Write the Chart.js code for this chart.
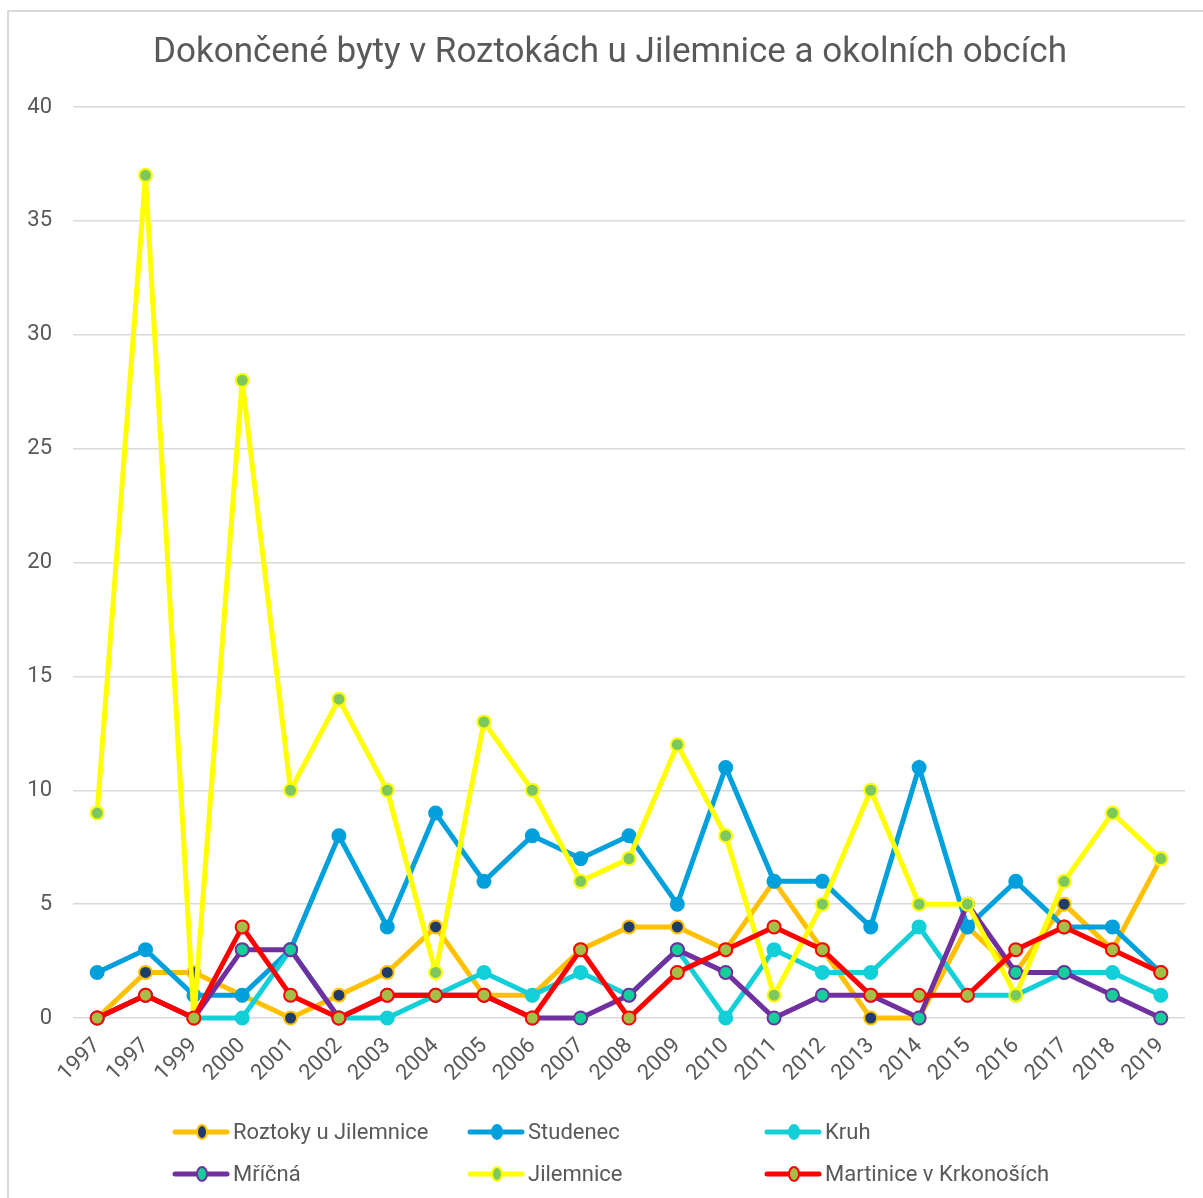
<!DOCTYPE html>
<html>
<head>
<meta charset="utf-8">
<script src="https://cdn.jsdelivr.net/npm/chart.js@4.4.1/dist/chart.umd.min.js"></script>
<style>
  html, body { margin: 0; background: #fff; }
  #frame { position: absolute; left: 7px; top: 10px; width: 1300px; height: 1300px;
           border-left: 2px solid #d9d9d9; border-top: 2px solid #d9d9d9; }
  #wrap { position: absolute; left: 0; top: 0; width: 1203px; height: 1198px; }
</style>
</head>
<body>
<div id="frame"></div>
<div id="wrap"><canvas id="chart" width="1203" height="1198"></canvas></div>
<script>
const titleText = "Dokončené byty v Roztokách u Jilemnice a okolních obcích";

const years = ["1997", "1997", "1999", "2000", "2001", "2002", "2003", "2004", "2005", "2006", "2007", "2008",
               "2009", "2010", "2011", "2012", "2013", "2014", "2015", "2016", "2017", "2018", "2019"];

const roztoky    = [0, 2, 2, 1, 0, 1, 2, 4, 1, 1, 3, 4, 4, 3, 6, 3, 0, 0, 4, 2, 5, 3, 7];
const studenec   = [2, 3, 1, 1, 3, 8, 4, 9, 6, 8, 7, 8, 5, 11, 6, 6, 4, 11, 4, 6, 4, 4, 2];
const kruh       = [0, 1, 0, 0, 3, 0, 0, 1, 2, 1, 2, 1, 3, 0, 3, 2, 2, 4, 1, 1, 2, 2, 1];
const mricna     = [0, 1, 0, 3, 3, 0, 1, 1, 1, 0, 0, 1, 3, 2, 0, 1, 1, 0, 5, 2, 2, 1, 0];
const jilemnice  = [9, 37, 0, 28, 10, 14, 10, 2, 13, 10, 6, 7, 12, 8, 1, 5, 10, 5, 5, 1, 6, 9, 7];
const martinice  = [0, 1, 0, 4, 1, 0, 1, 1, 1, 0, 3, 0, 2, 3, 4, 3, 1, 1, 1, 3, 4, 3, 2];

const yTicksMax = 40;
const yTicksStep = 5;

const FONT = "Roboto, 'Liberation Sans', sans-serif";
const TEXT = "#595959";

function series(label, data, line, fill, border) {
    return {
        label: label,
        data: data,
        borderColor: line,
        backgroundColor: line,
        borderWidth: 5,
        pointRadius: 6.5,
        pointHoverRadius: 6.5,
        pointBorderWidth: 2,
        pointBackgroundColor: fill,
        pointBorderColor: border,
        tension: 0,
        clip: false,
    };
}

const datasets = [
    series("Roztoky u Jilemnice", roztoky, "#ffc000", "#1f3d6b", "#ffc000"),
    series("Studenec", studenec, "#00a0dc", "#00a0dc", "#00a0dc"),
    series("Kruh", kruh, "#12cfd8", "#12cfd8", "#12cfd8"),
    series("Mříčná", mricna, "#7030a0", "#14cf9a", "#7030a0"),
    series("Jilemnice", jilemnice, "#ffff00", "#7dc75f", "#ffff00"),
    series("Martinice v Krkonoších", martinice, "#ff0000", "#a3bf48", "#ff0000"),
];
// later series sit on top, like in the original
datasets.forEach((ds, i) => { ds.order = datasets.length - 1 - i; });

// title and legend are drawn by hand so they land where the original has them
const decorations = {
    id: "decorations",
    afterDraw(chart) {
        const ctx = chart.ctx;
        ctx.save();
        ctx.fillStyle = TEXT;
        ctx.font = "35px " + FONT;
        ctx.textAlign = "center";
        ctx.textBaseline = "middle";
        ctx.fillText(titleText, 610, 53);

        const colX = [173, 468, 765];
        const rowY = [1132, 1174];
        ctx.font = "22px " + FONT;
        ctx.textAlign = "left";
        chart.data.datasets.forEach((ds, i) => {
            const x = colX[i % 3];
            const y = rowY[Math.floor(i / 3)];
            ctx.strokeStyle = ds.borderColor;
            ctx.lineWidth = 5;
            ctx.lineCap = "round";
            ctx.beginPath();
            ctx.moveTo(x + 2, y);
            ctx.lineTo(x + 54, y);
            ctx.stroke();
            ctx.beginPath();
            ctx.ellipse(x + 29, y, 5, 7, 0, 0, Math.PI * 2);
            ctx.fillStyle = ds.pointBackgroundColor;
            ctx.fill();
            ctx.lineWidth = 2;
            ctx.strokeStyle = ds.pointBorderColor;
            ctx.stroke();
            ctx.fillStyle = TEXT;
            ctx.fillText(ds.label, x + 60, y + 1);
        });
        ctx.restore();
    },
};

new Chart(document.getElementById("chart"), {
    type: "line",
    data: { labels: years, datasets: datasets },
    plugins: [decorations],
    options: {
        responsive: false,
        devicePixelRatio: 1,
        animation: false,
        layout: { padding: { top: 107, left: 7, right: 18, bottom: 90 } },
        plugins: {
            legend: { display: false },
            title: { display: false },
            tooltip: { enabled: false },
        },
        scales: {
            x: {
                offset: true,
                grid: { display: false },
                border: { display: false },
                ticks: {
                    autoSkip: false,
                    maxRotation: 45,
                    minRotation: 45,
                    padding: 7,
                    color: TEXT,
                    font: { family: FONT, size: 22 },
                },
                afterFit(scale) { scale.height = 90; },
            },
            y: {
                min: 0,
                max: yTicksMax,
                grid: { color: "#d9d9d9", lineWidth: 1.5, drawTicks: false },
                border: { display: false },
                ticks: {
                    stepSize: yTicksStep,
                    padding: 21,
                    color: TEXT,
                    font: { family: FONT, size: 22 },
                },
                afterFit(scale) { scale.width = 66; },
            },
        },
    },
});
</script>
</body>
</html>
